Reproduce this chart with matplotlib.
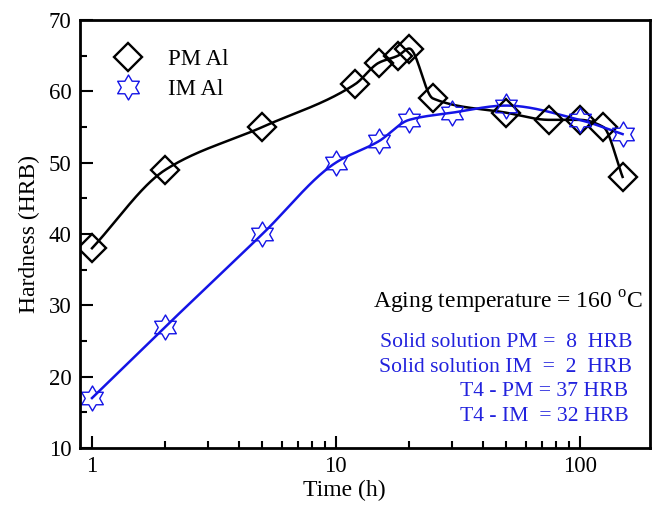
import numpy as np
import matplotlib.pyplot as plt
from matplotlib.lines import Line2D
from matplotlib.path import Path
from matplotlib.ticker import FixedLocator, NullFormatter, FixedFormatter, MultipleLocator

plt.rcParams['font.family'] = ['Liberation Serif', 'DejaVu Serif']
plt.rcParams['mathtext.fontset'] = 'custom'
plt.rcParams['mathtext.rm'] = 'Liberation Serif'

# data
pm_time = [1, 2, 5, 12, 15, 18, 20, 25, 50, 75, 100, 125, 150]
pm_hard = [38, 49, 55, 61, 64, 65, 66, 59, 57, 56, 56, 55, 48]
im_time = [1, 2, 5, 10, 15, 20, 30, 50, 100, 150]
im_hard = [17, 27, 40, 50, 53, 56, 57, 58, 56, 54]


def pchip(x, y, xs):
    # monotone cubic (Fritsch-Carlson) used only to draw the smooth line
    x = np.asarray(x, float); y = np.asarray(y, float)
    h = np.diff(x); d = np.diff(y) / h
    m = np.zeros_like(y)
    for k in range(1, len(x) - 1):
        if d[k - 1] * d[k] > 0:
            w1 = 2 * h[k] + h[k - 1]; w2 = h[k] + 2 * h[k - 1]
            m[k] = (w1 + w2) / (w1 / d[k - 1] + w2 / d[k])
    m[0] = d[0]; m[-1] = d[-1]
    i = np.clip(np.searchsorted(x, xs) - 1, 0, len(h) - 1)
    t = (xs - x[i]) / h[i]
    h00 = 2*t**3 - 3*t**2 + 1; h10 = t**3 - 2*t**2 + t
    h01 = -2*t**3 + 3*t**2; h11 = t**3 - t**2
    return h00*y[i] + h10*h[i]*m[i] + h01*y[i+1] + h11*h[i]*m[i+1]


def smooth(t, v):
    lx = np.log10(t)
    xs = np.linspace(lx[0], lx[-1], 400)
    return 10 ** xs, pchip(lx, v, xs)


# six-pointed star marker
ang = np.deg2rad(90 + np.arange(12) * 30)
rad = np.where(np.arange(12) % 2 == 0, 1.0, 0.58)
verts = np.column_stack([rad * np.cos(ang), rad * np.sin(ang)])
verts = np.vstack([verts, verts[0]])
star = Path(verts, [Path.MOVETO] + [Path.LINETO] * 11 + [Path.CLOSEPOLY])

blue = '#1414e6'
txt_blue = '#2222dd'

fig = plt.figure(figsize=(6.58, 5.12), dpi=100)
ax = fig.add_axes([0.1216, 0.125, 0.866, 0.836])

sx, sy = smooth(pm_time, pm_hard)
ax.plot(sx, sy, color='black', lw=1.8)
sx, sy = smooth(im_time, im_hard)
ax.plot(sx, sy, color=blue, lw=1.8)

ax.plot(pm_time, pm_hard, ls='none', marker='D', ms=14, mfc='none',
        mec='black', mew=1.7)
ax.plot(im_time, im_hard, ls='none', marker=star, ms=18, mfc='none',
        mec=blue, mew=1.0)

ax.set_xscale('log')
ax.set_xlim(0.893, 194)
ax.set_ylim(10, 70)

ax.xaxis.set_major_locator(FixedLocator([1, 10, 100]))
ax.xaxis.set_major_formatter(FixedFormatter(['1', '10', '100']))
ax.xaxis.set_minor_locator(FixedLocator([2, 3, 4, 5, 6, 7, 8, 9,
                                         20, 30, 40, 50, 60, 70, 80, 90]))
ax.xaxis.set_minor_formatter(NullFormatter())
ax.yaxis.set_major_locator(MultipleLocator(10))
ax.yaxis.set_minor_locator(MultipleLocator(5))

ax.tick_params(which='both', direction='in', top=False, right=False,
               labelsize=16.5, width=1.5)
ax.tick_params(which='major', length=9, pad=6)
ax.tick_params(which='minor', length=5)
for s in ax.spines.values():
    s.set_linewidth(2)

ax.set_xlabel('Time (h)', fontsize=17, labelpad=2)
ax.xaxis.set_label_coords(0.463, -0.075)
ax.set_ylabel('Hardness (HRB)', fontsize=17, labelpad=6)

handles = [
    Line2D([], [], ls='none', marker='D', ms=14, mfc='none', mec='black', mew=1.7),
    Line2D([], [], ls='none', marker=star, ms=18, mfc='none', mec=blue, mew=1.0),
]
ax.legend(handles, ['PM Al', 'IM Al'], loc='upper left', frameon=False,
          fontsize=16.5, bbox_to_anchor=(0.008, 0.98), handletextpad=0.75,
          labelspacing=0.4)

ax.text(0.988, 0.339, r'Aging temperature = 160 $^{\mathrm{o}}$C',
        transform=ax.transAxes, ha='right', va='center', fontsize=17)
notes = ['Solid solution PM =  8  HRB', 'Solid solution IM  =  2  HRB',
         'T4 - PM = 37 HRB', 'T4 - IM  = 32 HRB']
note_x = [0.969, 0.969, 0.962, 0.962]
note_y = [0.246, 0.188, 0.131, 0.073]
for s, xx, yy in zip(notes, note_x, note_y):
    ax.text(xx, yy, s, transform=ax.transAxes, ha='right', va='center',
            fontsize=15.6, color=txt_blue)

fig.savefig('out.png', dpi=100)
